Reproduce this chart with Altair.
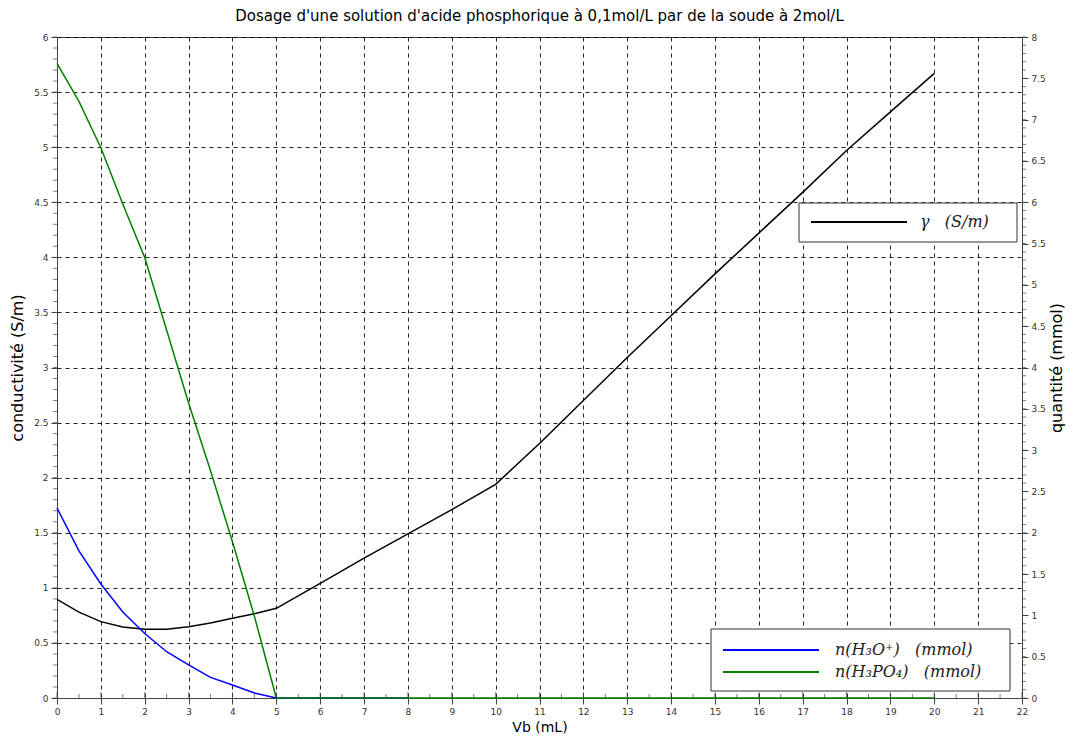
import altair as alt
import pandas as pd

# conductivity gamma (S/m) vs Vb (mL)
vb_gamma = [0, 0.5, 1, 1.5, 2, 2.5, 3, 3.5, 4, 4.5, 5, 6, 7, 8, 9, 10,
            11, 12, 13, 14, 15, 16, 17, 18, 19, 20]
gamma = [0.896, 0.78, 0.693, 0.645, 0.623, 0.625, 0.647, 0.68, 0.723, 0.765, 0.814,
         1.04, 1.27, 1.49, 1.71, 1.94, 2.31, 2.70, 3.09, 3.47, 3.85, 4.22, 4.59,
         4.97, 5.32, 5.67]

# n(H3O+) (mmol)
vb_h3o = [0, 0.5, 1, 1.5, 2, 2.5, 3, 3.5, 4, 4.5, 5, 6, 7, 8]
n_h3o = [2.30, 1.78, 1.38, 1.04, 0.78, 0.56, 0.40, 0.25, 0.157, 0.06, 0.0, 0.0, 0.0, 0.0]

# n(H3PO4) (mmol)
vb_h3po4 = [0, 0.5, 1, 1.5, 2, 2.5, 3, 3.5, 4, 4.5, 5, 10, 15, 20]
n_h3po4 = [7.68, 7.22, 6.66, 5.98, 5.33, 4.45, 3.57, 2.75, 1.89, 0.99, 0.0, 0.0, 0.0, 0.0]

lab_gamma = "\u03b3\u00a0\u00a0\u00a0(S/m)"
lab_h3o = "n(H\u2083O\u207a)\u00a0\u00a0\u00a0(mmol)"
lab_h3po4 = "n(H\u2083PO\u2084)\u00a0\u00a0\u00a0(mmol)"

# axis ticks
x_ticks = list(range(0, 23))
x_minor = [i + 0.5 for i in range(22)]
y_left_ticks = [i * 0.5 for i in range(13)]
y_left_minor = [round(i * 0.1, 1) for i in range(61)]
y_right_ticks = [i * 0.5 for i in range(17)]
y_right_minor = [round(i * 0.1, 1) for i in range(81)]

df_g = pd.DataFrame({"vb": vb_gamma, "val": gamma})
df_n = pd.concat([
    pd.DataFrame({"vb": vb_h3o, "val": n_h3o, "serie": lab_h3o, "ordre": 1}),
    pd.DataFrame({"vb": vb_h3po4, "val": n_h3po4, "serie": lab_h3po4, "ordre": 0}),
])

FONT = "DejaVu Sans"
LFONT = "DejaVu Serif"
AXC = "#444"
X_TITLE = "Vb (mL)"

x_scale = alt.Scale(domain=[0, 22], nice=False, zero=False)
x_axis = alt.Axis(values=x_ticks, format="d", titlePadding=4, labelFlush=False,
                  titleFontSize=14)


def x_of(field):
    return alt.X(f"{field}:Q", title=X_TITLE, scale=x_scale, axis=x_axis)


black = alt.Chart(df_g).mark_line(strokeWidth=1.5, color="black").encode(
    x=x_of("vb"),
    y=alt.Y(
        "val:Q",
        title="conductivité (S/m)",
        scale=alt.Scale(domain=[0, 6], nice=False),
        axis=alt.Axis(values=y_left_ticks, format="~g", orient="left", grid=True,
                      titlePadding=8, labelFlush=False),
    ),
)

quant = alt.Chart(df_n).mark_line(strokeWidth=1.5).encode(
    x=x_of("vb"),
    y=alt.Y(
        "val:Q",
        title="quantité (mmol)",
        scale=alt.Scale(domain=[0, 8], nice=False),
        axis=alt.Axis(values=y_right_ticks, format="~g", orient="right", grid=False,
                      titleAngle=270, titlePadding=19, labelFlush=False),
    ),
    color=alt.Color(
        "serie:N",
        scale=alt.Scale(domain=[lab_h3o, lab_h3po4], range=["#0000ff", "#008000"]),
        legend=None,
    ),
    order=alt.Order("ordre:Q"),
)

# ---- minor / inner ticks (Scilab style) ----
xmin = alt.Chart(pd.DataFrame({"vb": x_minor})).mark_tick(
    orient="vertical", color=AXC, size=4, thickness=1).encode(
    x=x_of("vb"), y=alt.value(659))
xmaj = alt.Chart(pd.DataFrame({"vb": x_ticks})).mark_tick(
    orient="vertical", color=AXC, size=6, thickness=1).encode(
    x=x_of("vb"), y=alt.value(658))
ylmin = alt.Chart(pd.DataFrame({"t": y_left_minor})).mark_tick(
    orient="horizontal", color=AXC, size=4, thickness=1).encode(
    y=alt.Y("t:Q", scale=alt.Scale(domain=[0, 6], nice=False), axis=None), x=alt.value(-2))
yrmin = alt.Chart(pd.DataFrame({"t": y_right_minor})).mark_tick(
    orient="horizontal", color=AXC, size=4, thickness=1).encode(
    y=alt.Y("t:Q", scale=alt.Scale(domain=[0, 8], nice=False), axis=None), x=alt.value(967))

# ---- hand-drawn legend boxes (Scilab style) ----
one = pd.DataFrame({"k": [0]})

box1 = alt.Chart(one).mark_rect(fill="white", stroke="#333", strokeWidth=1).encode(
    x=alt.value(742), x2=alt.value(960), y=alt.value(166), y2=alt.value(205))
sym1 = alt.Chart(one).mark_rule(color="black", strokeWidth=2).encode(
    x=alt.value(754), x2=alt.value(850), y=alt.value(185))
txt1 = alt.Chart(pd.DataFrame({"lab": [lab_gamma]})).mark_text(
    font=LFONT, fontStyle="italic", fontSize=16, color="#222", align="left", baseline="middle"
).encode(text="lab:N", x=alt.value(863), y=alt.value(185))

box2 = alt.Chart(one).mark_rect(fill="white", stroke="#333", strokeWidth=1).encode(
    x=alt.value(654), x2=alt.value(953), y=alt.value(592), y2=alt.value(654))
sym2a = alt.Chart(one).mark_rule(color="#0000ff", strokeWidth=2).encode(
    x=alt.value(666), x2=alt.value(762), y=alt.value(613))
sym2b = alt.Chart(one).mark_rule(color="#008000", strokeWidth=2).encode(
    x=alt.value(666), x2=alt.value(762), y=alt.value(635))
txt2a = alt.Chart(pd.DataFrame({"lab": [lab_h3o]})).mark_text(
    font=LFONT, fontStyle="italic", fontSize=16, color="#222", align="left", baseline="middle"
).encode(text="lab:N", x=alt.value(778), y=alt.value(613))
txt2b = alt.Chart(pd.DataFrame({"lab": [lab_h3po4]})).mark_text(
    font=LFONT, fontStyle="italic", fontSize=16, color="#222", align="left", baseline="middle"
).encode(text="lab:N", x=alt.value(778), y=alt.value(635))

chart = (
    alt.layer(black, quant, xmin, xmaj, ylmin, yrmin,
              box1, sym1, txt1, box2, sym2a, sym2b, txt2a, txt2b)
    .resolve_scale(y="independent")
    .properties(
        width=965,
        height=661,
        title=alt.TitleParams(
            "Dosage d'une solution d'acide phosphorique à 0,1mol/L par de la soude à 2mol/L",
            font=FONT, fontSize=15, fontWeight="normal", color="black", offset=9,
        ),
        padding={"left": 49, "top": 29, "right": 45, "bottom": 37},
        autosize=alt.AutoSizeParams(type="none"),
        background="white",
    )
    .configure_view(stroke=AXC, strokeWidth=1)
    .configure_axis(
        labelFont=FONT,
        labelFontSize=9,
        labelColor="#333",
        titleFont=FONT,
        titleFontSize=16,
        titleFontWeight="normal",
        titleColor="black",
        domainColor=AXC,
        tickColor=AXC,
        tickSize=6,
        labelPadding=3,
        gridColor="black",
        gridDash=[4, 4],
        gridOpacity=0.85,
        gridWidth=1,
    )
)

chart.save("out.html", embed_options={"renderer": "svg", "actions": False})
